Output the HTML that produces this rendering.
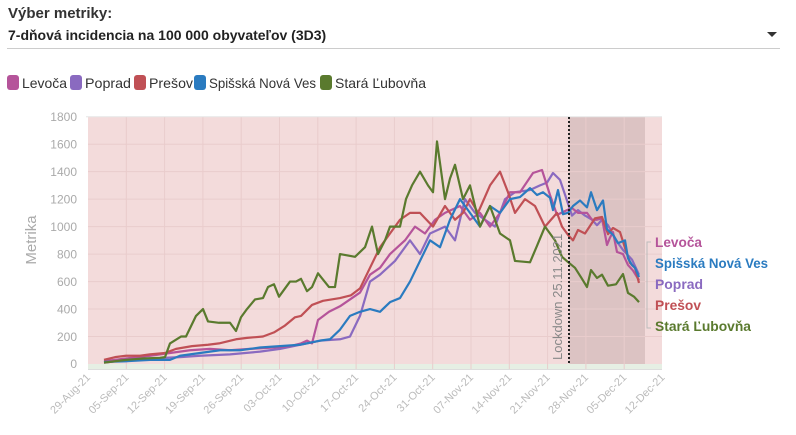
<!DOCTYPE html>
<html><head><meta charset="utf-8"><style>
body{margin:0;width:796px;height:435px;background:#fff;font-family:"Liberation Sans",sans-serif;overflow:hidden}
svg{position:absolute;left:0;top:0}
</style></head><body>
<svg width="796" height="435" viewBox="0 0 796 435">
<text x="8" y="18" font-size="15" font-weight="bold" fill="#333">Výber metriky:</text>
<text x="8" y="40" font-size="14" font-weight="bold" fill="#222">7-dňová incidencia na 100 000 obyvateľov (3D3)</text>
<line x1="7" y1="48.5" x2="780" y2="48.5" stroke="#ccc"/>
<polygon points="767,32 777,32 772,37" fill="#333"/>
<g font-size="14" fill="#333">
<rect x="7" y="75" width="12" height="15" rx="3" fill="#b5549a"/><text x="22" y="88" textLength="45" lengthAdjust="spacingAndGlyphs">Levoča</text>
<rect x="70" y="75" width="12" height="15" rx="3" fill="#8a6ac0"/><text x="85" y="88" textLength="46" lengthAdjust="spacingAndGlyphs">Poprad</text>
<rect x="134" y="75" width="12" height="15" rx="3" fill="#c05055"/><text x="149" y="88" textLength="44" lengthAdjust="spacingAndGlyphs">Prešov</text>
<rect x="194" y="75" width="12" height="15" rx="3" fill="#2a7bc0"/><text x="209" y="88" textLength="107" lengthAdjust="spacingAndGlyphs">Spišská Nová Ves</text>
<rect x="320" y="75" width="12" height="15" rx="3" fill="#5a7a2e"/><text x="335" y="88" textLength="91" lengthAdjust="spacingAndGlyphs">Stará Ľubovňa</text>
</g>
<rect x="88" y="116.7" width="574" height="247.3" fill="#f3dbdb"/>
<rect x="569" y="116.7" width="76" height="247.3" fill="#dcc3c3"/>
<rect x="88" y="364" width="574" height="5" fill="#e6efe4"/>
<g stroke="#e9cccc" stroke-width="1">
<line x1="88" x2="662" y1="144.2" y2="144.2"/><line x1="88" x2="662" y1="171.6" y2="171.6"/><line x1="88" x2="662" y1="199.1" y2="199.1"/><line x1="88" x2="662" y1="226.6" y2="226.6"/><line x1="88" x2="662" y1="254.1" y2="254.1"/><line x1="88" x2="662" y1="281.6" y2="281.6"/><line x1="88" x2="662" y1="309" y2="309"/><line x1="88" x2="662" y1="336.5" y2="336.5"/>
<line y1="117" y2="369" x1="126.3" x2="126.3"/><line y1="117" y2="369" x1="164.6" x2="164.6"/><line y1="117" y2="369" x1="202.9" x2="202.9"/><line y1="117" y2="369" x1="241.2" x2="241.2"/><line y1="117" y2="369" x1="279.5" x2="279.5"/><line y1="117" y2="369" x1="317.8" x2="317.8"/><line y1="117" y2="369" x1="356.1" x2="356.1"/><line y1="117" y2="369" x1="394.4" x2="394.4"/><line y1="117" y2="369" x1="432.7" x2="432.7"/><line y1="117" y2="369" x1="471" x2="471"/><line y1="117" y2="369" x1="509.3" x2="509.3"/><line y1="117" y2="369" x1="547.6" x2="547.6"/><line y1="117" y2="369" x1="585.9" x2="585.9"/><line y1="117" y2="369" x1="624.2" x2="624.2"/>
</g>
<line x1="86" y1="116.7" x2="662" y2="116.7" stroke="#e6e6e6"/>
<line x1="88" y1="369.5" x2="662" y2="369.5" stroke="#ddd"/>
<g font-size="12" fill="#aaa" text-anchor="end">
<text x="77" y="121">1800</text><text x="77" y="148.5">1600</text><text x="77" y="176">1400</text><text x="77" y="203.5">1200</text><text x="77" y="231">1000</text><text x="77" y="258.5">800</text><text x="77" y="286">600</text><text x="77" y="313.5">400</text><text x="77" y="341">200</text><text x="77" y="368">0</text>
</g>
<text transform="translate(36,240) rotate(-90)" font-size="15" fill="#aaa" text-anchor="middle">Metrika</text>
<g font-size="11" fill="#bbb" text-anchor="end">
<text transform="translate(91,378) rotate(-45)">29-Aug-21</text>
<text transform="translate(129.3,378) rotate(-45)">05-Sep-21</text>
<text transform="translate(167.6,378) rotate(-45)">12-Sep-21</text>
<text transform="translate(205.9,378) rotate(-45)">19-Sep-21</text>
<text transform="translate(244.2,378) rotate(-45)">26-Sep-21</text>
<text transform="translate(282.5,378) rotate(-45)">03-Oct-21</text>
<text transform="translate(320.8,378) rotate(-45)">10-Oct-21</text>
<text transform="translate(359.1,378) rotate(-45)">17-Oct-21</text>
<text transform="translate(397.4,378) rotate(-45)">24-Oct-21</text>
<text transform="translate(435.7,378) rotate(-45)">31-Oct-21</text>
<text transform="translate(474,378) rotate(-45)">07-Nov-21</text>
<text transform="translate(512.3,378) rotate(-45)">14-Nov-21</text>
<text transform="translate(550.6,378) rotate(-45)">21-Nov-21</text>
<text transform="translate(588.9,378) rotate(-45)">28-Nov-21</text>
<text transform="translate(627.2,378) rotate(-45)">05-Dec-21</text>
<text transform="translate(665.5,378) rotate(-45)">12-Dec-21</text>
</g>
<g transform="translate(0,364) scale(1,-0.1374)" fill="none" stroke-width="2.2" stroke-linejoin="round">
<polyline vector-effect="non-scaling-stroke" stroke="#8a6ac0" points="104,10 126,30 150,40 180,50 200,60 230,70 260,90 280,110 300,140 320,170 340,180 350,200 360,350 370,600 380,650 395,750 410,900 420,800 430,950 445,1000 455,900 465,1200 475,1100 485,1050 495,1000 505,1200 515,1250 530,1266 540,1300 547,1320 553,1390 560,1340 567,1190 572,1080 578,1120 585,1080 592,1050 597,1010 602,1050 608,1010 617,890 623,830 632,760 639,650"/>
<polyline vector-effect="non-scaling-stroke" stroke="#b5549a" points="104,20 126,40 150,60 170,80 190,100 210,110 230,100 250,110 274,120 290,130 301,150 307,170 312,150 318,320 329,380 340,420 350,470 360,520 370,650 380,700 390,800 405,900 415,1000 425,950 435,1050 445,1100 460,1150 470,1050 480,1100 490,1000 500,1100 510,1250 520,1250 533,1390 542,1412 550,1230 557,1085 567,1120 572,1135 578,1100 587,1100 592,1050 597,1050 602,1060 607,866 610,920 613,960 617,815 623,800 628,720 633,680 639,610"/>
<polyline vector-effect="non-scaling-stroke" stroke="#c05055" points="104,30 115,50 126,60 140,60 150,70 165,80 176,110 192,130 208,140 219,150 236,180 247,190 263,200 274,230 285,280 295,340 301,350 312,430 323,460 340,480 351,500 360,550 370,700 380,850 390,950 400,1050 410,1100 420,1100 433,1000 445,1150 455,1050 463,1100 470,1200 478,1100 490,1300 500,1400 508,1250 515,1100 525,1200 535,1150 545,1000 557,1100 562,1000 568,940 573,900 578,975 585,950 595,1060 602,1070 608,945 613,990 620,960 625,845 630,735 635,700 639,590"/>
<polyline vector-effect="non-scaling-stroke" stroke="#2a7bc0" points="104,15 126,20 150,30 170,30 180,60 200,80 220,100 240,100 260,120 280,130 300,140 320,170 330,180 340,250 350,350 360,380 370,400 380,380 390,450 400,480 410,600 420,750 430,900 440,850 450,1050 460,1200 470,1100 480,1000 490,1150 500,1100 510,1200 520,1215 530,1280 537,1230 543,1250 550,1210 553,1120 558,1266 563,1090 568,1100 573,1150 580,1190 587,1140 591,1250 597,1120 603,1190 607,980 613,940 618,880 625,900 628,770 632,720 635,700 639,633"/>
<polyline vector-effect="non-scaling-stroke" stroke="#5a7a2e" points="104,10 126,30 143,40 160,45 165,50 170,150 181,200 186,200 196,350 203,400 208,310 219,300 230,300 236,240 241,340 247,400 255,470 263,480 268,560 274,580 279,490 290,600 296,600 301,620 307,530 312,560 318,660 329,560 335,560 340,800 355,780 365,850 372,1000 378,800 385,900 390,1000 400,1000 406,1200 412,1300 420,1400 428,1300 433,1250 437,1620 445,1200 450,1350 455,1450 463,1200 470,1300 480,1000 490,1150 500,950 510,900 515,750 530,740 537,860 545,1000 555,900 562,780 568,742 575,700 582,620 587,560 591,684 597,626 602,650 608,570 616,580 623,655 628,517 634,490 639,450"/>
</g>
<line x1="569" y1="117" x2="569" y2="364" stroke="#222" stroke-width="2" stroke-dasharray="2,2"/>
<text transform="translate(562,360) rotate(-90)" font-size="13" fill="#888">Lockdown 25.11.2021</text>
<path d="M651,242 H647 V328 H651" stroke="#bbb" fill="none"/>
<g font-size="14" font-weight="bold">
<text x="655" y="247" fill="#b5549a" textLength="47" lengthAdjust="spacingAndGlyphs">Levoča</text>
<text x="655" y="268" fill="#2a7bc0" textLength="113" lengthAdjust="spacingAndGlyphs">Spišská Nová Ves</text>
<text x="655" y="289" fill="#8a6ac0" textLength="48" lengthAdjust="spacingAndGlyphs">Poprad</text>
<text x="655" y="310" fill="#c05055" textLength="46" lengthAdjust="spacingAndGlyphs">Prešov</text>
<text x="655" y="331" fill="#5a7a2e" textLength="96" lengthAdjust="spacingAndGlyphs">Stará Ľubovňa</text>
</g>
</svg>
</body></html>
